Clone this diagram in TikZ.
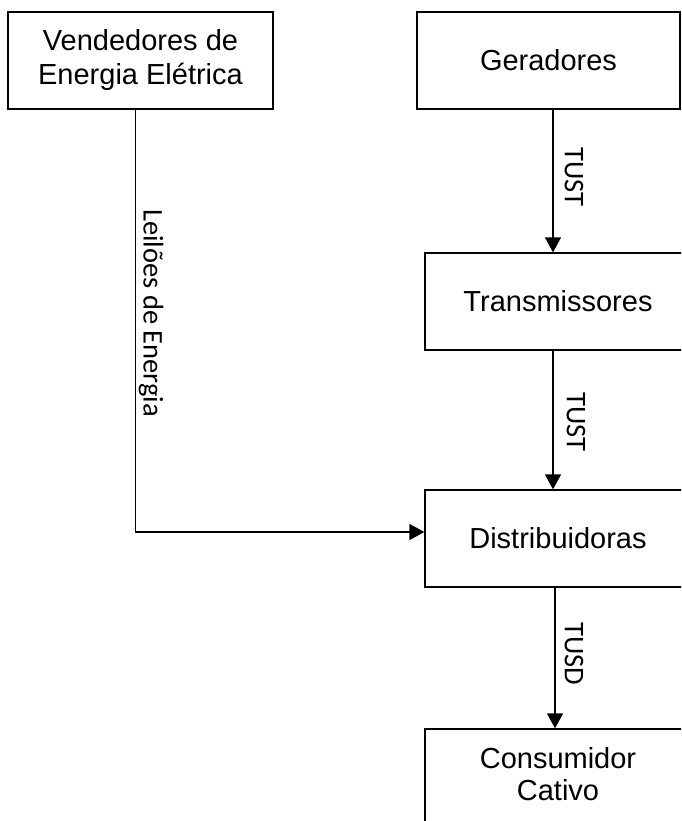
\documentclass[tikz,border=0pt]{standalone}
\usepackage{fontspec}
\setmainfont{Liberation Sans}
\newfontfamily\lblfont{Carlito}
\usetikzlibrary{arrows.meta}
\begin{document}
\begin{tikzpicture}[x=1pt,y=1pt,
  box/.style={draw, line width=1.3pt, inner sep=0pt, font=\fontsize{29}{34}\selectfont, align=center},
  boxtext/.style={inner sep=0pt, font=\fontsize{29}{32}\selectfont, align=center},
  arr/.style={line width=1.5pt, -{Triangle[length=15pt,width=16pt]}},
  lbl/.style={font=\lblfont\fontsize{28.5}{32}\selectfont, rotate=-90, inner sep=0pt}]
\clip (0,0) rectangle (681,-821);
\node[box, minimum width=265, minimum height=97] (V) at (140.5,-60.5) {Vendedores de\\Energia Elétrica};
\node[box, minimum width=263, minimum height=97] (G) at (548.5,-60.5) {Geradores};
\node[box, minimum width=266, minimum height=97] (T) at (558,-301.5) {Transmissores};
\node[box, minimum width=266, minimum height=97] (D) at (558,-538.5) {Distribuidoras};
\node[box, minimum width=266, minimum height=104] (C) at (558,-781) {};
\node[boxtext] (Ct) at (558,-774) {Consumidor\\Cativo};
\draw[arr] ([xshift=4.5]G.south) -- ([xshift=-5]T.north);
\draw[arr] ([xshift=-5]T.south) -- ([xshift=-5]D.north);
\draw[arr] ([xshift=-3]D.south) -- ([xshift=-3]C.north);
\draw[arr] ([xshift=-5]V.south) |- ([yshift=6.5]D.west);
\node[lbl] (l1) at (574,-177) {TUST};
\node[lbl] (l2) at (576,-422) {TUST};
\node[lbl] (l3) at (574,-654) {TUSD};
\node[lbl] (l4) at (151,-313) {Leilões de Energia};
\end{tikzpicture}
\end{document}
